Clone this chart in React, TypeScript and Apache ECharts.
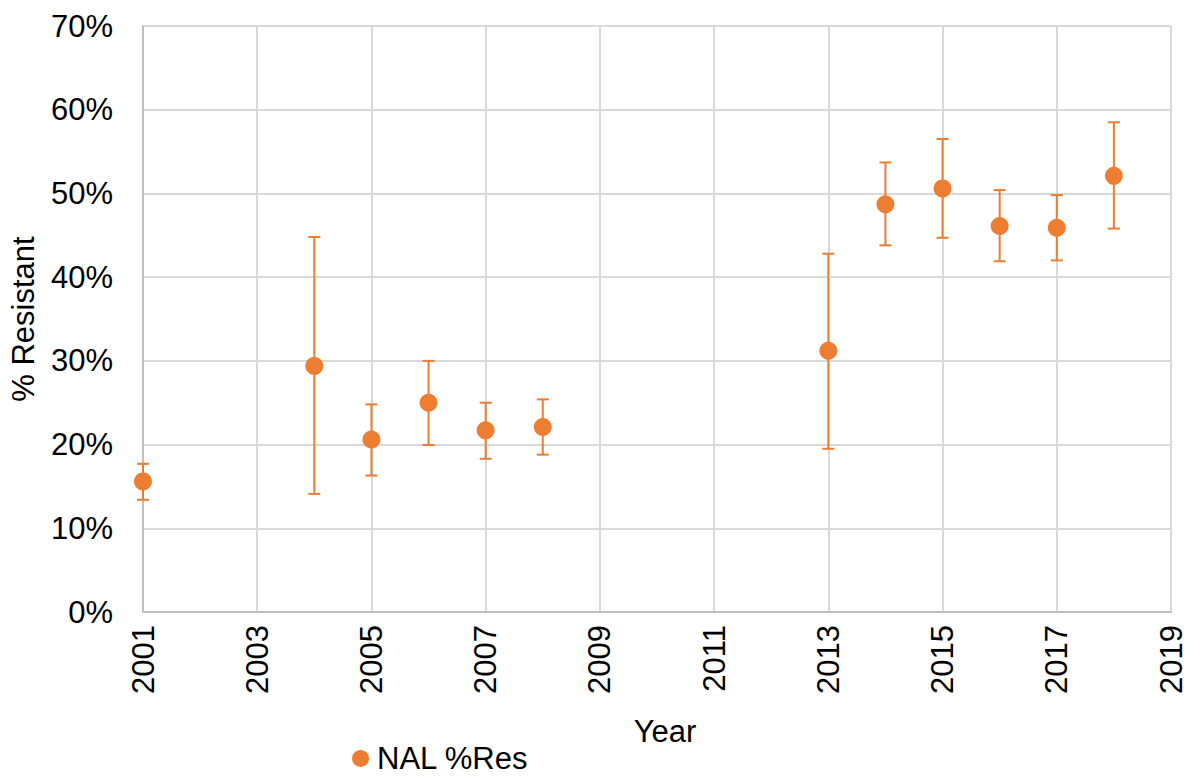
import React, { useEffect, useRef } from "react";
import * as echarts from "echarts";

const years = [2001, 2004, 2005, 2006, 2007, 2008, 2013, 2014, 2015, 2016, 2017, 2018];
const resistant = [15.6, 29.4, 20.6, 25.0, 21.7, 22.1, 31.2, 48.7, 50.6, 46.1, 45.9, 52.1];
const upper = [17.7, 44.8, 24.8, 30.0, 25.0, 25.4, 42.8, 53.7, 56.5, 50.4, 49.8, 58.5];
const lower = [13.4, 14.1, 16.3, 19.95, 18.3, 18.8, 19.5, 43.8, 44.7, 41.9, 42.0, 45.8];
const baseYear = 2001;
const seriesName = "NAL %Res";
const color = "#ED7D31";

export default function App() {
  const ref = useRef<HTMLDivElement>(null);
  useEffect(() => {
    if (!ref.current) return;
    const chart = echarts.init(ref.current, undefined, { renderer: "svg" });
    const font = "Liberation Sans, Arial, sans-serif";
    const fs = 31;
    chart.setOption({
      animation: false,
      textStyle: { fontFamily: font },
      grid: { left: 142, right: 19, top: 26, bottom: 164, containLabel: false },
      legend: {
        data: [{ name: seriesName, icon: "circle" }],
        left: 352,
        top: 743,
        padding: 0,
        itemWidth: 17,
        itemHeight: 17,
        itemGap: 4,
        textStyle: { fontSize: fs, lineHeight: 26, color: "#000", fontFamily: font, padding: [0, 0, 0, 3] },
      },
      xAxis: {
        type: "value",
        min: 0,
        max: 18,
        interval: 2,
        name: "Year",
        nameLocation: "middle",
        nameGap: 104,
        nameTextStyle: { fontSize: fs, color: "#000", fontFamily: font, padding: [0, 0, 0, 16] },
        axisLine: { show: true, lineStyle: { color: "#BFBFBF", width: 2 } },
        axisTick: { show: false },
        axisLabel: {
          rotate: 90,
          fontSize: fs,
          color: "#000",
          margin: 13,
          fontFamily: font,
          formatter: (v: number) => String(v + baseYear),
        },
        splitLine: { show: true, lineStyle: { color: "#D9D9D9", width: 2 } },
      },
      yAxis: {
        type: "value",
        min: 0,
        max: 70,
        interval: 10,
        name: "% Resistant",
        nameLocation: "middle",
        nameGap: 104,
        nameTextStyle: { fontSize: fs, color: "#000", fontFamily: font },
        axisLine: { show: true, lineStyle: { color: "#BFBFBF", width: 2 } },
        axisTick: { show: false },
        axisLabel: {
          fontSize: fs,
          color: "#000",
          margin: 30,
          fontFamily: font,
          formatter: (v: number) => v + "%",
        },
        splitLine: { show: true, lineStyle: { color: "#D9D9D9", width: 2 } },
      },
      series: [
        {
          type: "custom",
          name: "err",
          silent: true,
          z: 2,
          data: years.map((y, i) => [y - baseYear, lower[i], upper[i]]),
          renderItem: (params: any, api: any) => {
            const x = api.value(0);
            const lo = api.coord([x, api.value(1)]);
            const hi = api.coord([x, api.value(2)]);
            const hw = 6;
            const st = { stroke: color, lineWidth: 2 };
            return {
              type: "group",
              children: [
                { type: "line", shape: { x1: lo[0], y1: lo[1], x2: hi[0], y2: hi[1] }, style: st },
                { type: "line", shape: { x1: lo[0] - hw, y1: lo[1], x2: lo[0] + hw, y2: lo[1] }, style: st },
                { type: "line", shape: { x1: hi[0] - hw, y1: hi[1], x2: hi[0] + hw, y2: hi[1] }, style: st },
              ],
            };
          },
        },
        {
          type: "scatter",
          name: seriesName,
          z: 3,
          symbol: "circle",
          symbolSize: 18,
          itemStyle: { color, opacity: 1 },
          emphasis: { disabled: true },
          data: years.map((y, i) => [y - baseYear, resistant[i]]),
        },
      ],
    });
    return () => chart.dispose();
  }, []);
  return <div ref={ref} style={{ width: 1190, height: 776, position: "absolute", left: 0, top: 0 }} />;
}
